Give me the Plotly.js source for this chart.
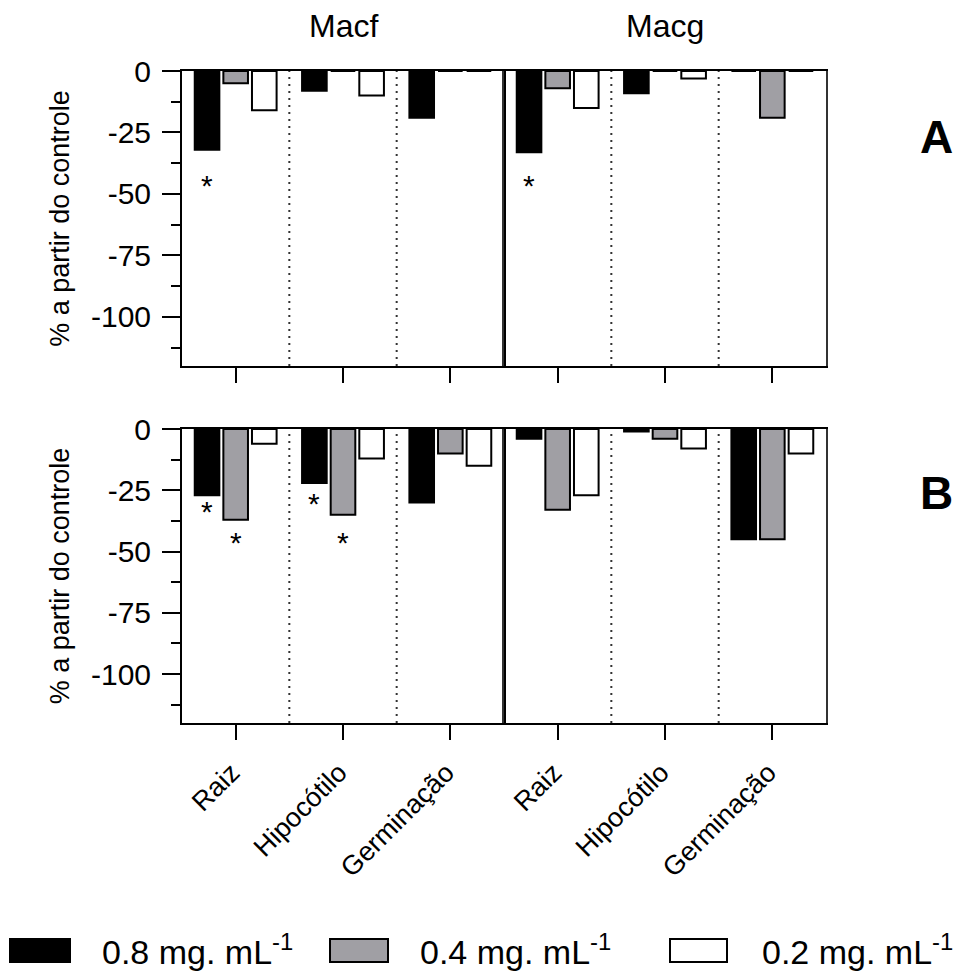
<!DOCTYPE html>
<html>
<head>
<meta charset="utf-8">
<script src="https://cdn.plot.ly/plotly-3.0.1.min.js"></script>
<style>html,body{margin:0;padding:0;background:#fff}#chart{width:980px;height:977px}</style>
</head>
<body>
<div id="chart"></div>
<script>
// ---------- data ----------
const categories = ['Raiz', 'Hipocótilo', 'Germinação'];
const species = ['Macf', 'Macg'];
const panels = ['A', 'B'];
const seriesNames = ['0.8 mg. mL<sup>-1</sup>', '0.4 mg. mL<sup>-1</sup>', '0.2 mg. mL<sup>-1</sup>'];
const seriesColors = ['#000000', '#a09fa4', '#ffffff'];

// Panel A (% relative to control)
const A_Macf_08 = [-32, -8, -19];
const A_Macf_04 = [-5, 0, 0];
const A_Macf_02 = [-16, -10, 0];
const A_Macg_08 = [-33, -9, 0];
const A_Macg_04 = [-7, 0, -19];
const A_Macg_02 = [-15, -3, 0];
// Panel B
const B_Macf_08 = [-27, -22, -30];
const B_Macf_04 = [-37, -35, -10];
const B_Macf_02 = [-6, -12, -15];
const B_Macg_08 = [-4, -1, -45];
const B_Macg_04 = [-33, -4, -45];
const B_Macg_02 = [-27, -8, -10];

// significance marks (*): panel, species, category, series index, y value
const sigPanel    = ['A', 'A', 'B', 'B', 'B', 'B'];
const sigSpecies  = ['Macf', 'Macg', 'Macf', 'Macf', 'Macf', 'Macf'];
const sigCategory = ['Raiz', 'Raiz', 'Raiz', 'Raiz', 'Hipocótilo', 'Hipocótilo'];
const sigSeries   = [0, 0, 0, 1, 0, 1];
const sigY        = [-45.5, -45.5, -32.5, -45, -29, -45];

const yTicks = [0, -25, -50, -75, -100];
const yMinor = [-12.5, -37.5, -62.5, -87.5, -112.5];

// ---------- layout helpers ----------
const W = 980, H = 977;
const M = {l: 182, r: 154, t: 71, b: 254};
const PW = W - M.l - M.r, PH = H - M.t - M.b;
const px = x => (x - M.l) / PW;
const py = y => (H - M.b - y) / PH;
const FONT = 'Arial, "Liberation Sans", sans-serif';

const dataMap = {
  A: {Macf: [A_Macf_08, A_Macf_04, A_Macf_02], Macg: [A_Macg_08, A_Macg_04, A_Macg_02]},
  B: {Macf: [B_Macf_08, B_Macf_04, B_Macf_02], Macg: [B_Macg_08, B_Macg_04, B_Macg_02]}
};
const axMap = {
  A: {Macf: ['x', 'y'], Macg: ['x2', 'y3']},
  B: {Macf: ['x3', 'y2'], Macg: ['x4', 'y4']}
};

const traces = [];
panels.forEach(p => {
  species.forEach(s => {
    dataMap[p][s].forEach((vals, i) => {
      traces.push({
        type: 'bar',
        x: categories,
        y: vals,
        name: seriesNames[i],
        xaxis: axMap[p][s][0],
        yaxis: axMap[p][s][1],
        marker: {color: seriesColors[i], line: {color: '#000', width: 2}},
        showlegend: false,
        hoverinfo: 'x+y+name'
      });
    });
  });
});

const bargap = 0.2;
const catPx = PW / 6;
const slotPx = (1 - bargap) / 3 * catPx;

const xBase = {
  type: 'category', categoryorder: 'array', categoryarray: categories,
  showline: true, linewidth: 2, linecolor: '#000', mirror: true,
  ticks: 'outside', ticklen: 15, tickwidth: 2, tickcolor: '#000',
  showgrid: false, zeroline: false, automargin: false, fixedrange: true,
  tickfont: {family: FONT, size: 27, color: '#000'}
};
const yBase = {
  range: [-120, 0], showline: true, linewidth: 2, linecolor: '#000', mirror: true,
  showgrid: false, zeroline: false, automargin: false, fixedrange: true
};
const yLeft = Object.assign({}, yBase, {
  tickvals: yTicks, ticktext: yTicks.map(String), ticks: 'outside', ticklen: 18, tickwidth: 2, tickcolor: '#000',
  minor: {tickvals: yMinor, ticks: 'outside', ticklen: 9, tickwidth: 2, tickcolor: '#000'},
  tickfont: {family: FONT, size: 30, color: '#000'},
  ticklabelstandoff: 5,
  title: {text: '% a partir do controle', font: {family: FONT, size: 27, color: '#000'}, standoff: 14}
});
const yRight = Object.assign({}, yBase, {ticks: '', showticklabels: false, linecolor: '#333'});

const domA = [py(366), 1], domB = [0, py(429)];

const layout = {
  width: W, height: H,
  margin: M,
  paper_bgcolor: '#fff', plot_bgcolor: '#fff',
  barmode: 'group', bargap: bargap, bargroupgap: 0.14,
  showlegend: false,
  font: {family: FONT, color: '#000'},
  xaxis:  Object.assign({}, xBase, {domain: [0, 0.5], anchor: 'y', showticklabels: false}),
  xaxis2: Object.assign({}, xBase, {domain: [0.5, 1], anchor: 'y3', showticklabels: false}),
  xaxis3: Object.assign({}, xBase, {domain: [0, 0.5], anchor: 'y2', tickangle: -45, ticklabelstandoff: 6, ticklabelshift: -4}),
  xaxis4: Object.assign({}, xBase, {domain: [0.5, 1], anchor: 'y4', tickangle: -45, ticklabelstandoff: 6, ticklabelshift: -4}),
  yaxis:  Object.assign({}, yLeft, {domain: domA, anchor: 'x'}),
  yaxis2: Object.assign({}, yLeft, {domain: domB, anchor: 'x3'}),
  yaxis3: Object.assign({}, yRight, {domain: domA, anchor: 'x2'}),
  yaxis4: Object.assign({}, yRight, {domain: domB, anchor: 'x4'}),
  shapes: [],
  annotations: []
};

// dotted separators between categories
[['x', 'y'], ['x2', 'y3'], ['x3', 'y2'], ['x4', 'y4']].forEach(([xa, ya]) => {
  [0.5, 1.5].forEach(pos => {
    layout.shapes.push({type: 'line', xref: xa, yref: ya + ' domain', x0: pos, x1: pos, y0: 0, y1: 1,
      line: {color: '#333', width: 2, dash: '2px,5px'}, layer: 'below'});
  });
});

// species titles
species.forEach((s, i) => {
  layout.annotations.push({text: s, xref: 'paper', yref: 'paper', x: 0.25 + 0.5 * i, y: py(26),
    xanchor: 'center', yanchor: 'middle', showarrow: false, font: {family: FONT, size: 32, color: '#000'}});
});
// panel letters
[['A', 137], ['B', 493]].forEach(([t, yy]) => {
  layout.annotations.push({text: '<b>' + t + '</b>', xref: 'paper', yref: 'paper', x: px(936), y: py(yy),
    xanchor: 'center', yanchor: 'middle', showarrow: false, font: {family: FONT, size: 46, color: '#000'}});
});
// significance asterisks
sigY.forEach((v, k) => {
  const [xa, ya] = axMap[sigPanel[k]][sigSpecies[k]];
  layout.annotations.push({text: '*', xref: xa, yref: ya, x: sigCategory[k], y: v,
    xshift: (sigSeries[k] - 1) * slotPx, yshift: -3,
    xanchor: 'center', yanchor: 'middle', showarrow: false, font: {family: FONT, size: 30, color: '#000'}});
});

// legend (drawn with shapes + text)
const legBoxes = [[10, 70], [330, 388], [670, 727]];
const legText = [100, 418, 760];
seriesNames.forEach((n, i) => {
  layout.shapes.push({type: 'rect', xref: 'paper', yref: 'paper',
    x0: px(legBoxes[i][0]), x1: px(legBoxes[i][1]), y0: py(939), y1: py(962),
    fillcolor: seriesColors[i], line: {color: '#000', width: 2}});
  layout.annotations.push({text: n, xref: 'paper', yref: 'paper', x: px(legText[i]), y: py(950),
    xanchor: 'left', yanchor: 'middle', showarrow: false, font: {family: FONT, size: 34, color: '#000'}});
});

Plotly.newPlot('chart', traces, layout, {displayModeBar: false, staticPlot: true});
</script>
</body>
</html>
